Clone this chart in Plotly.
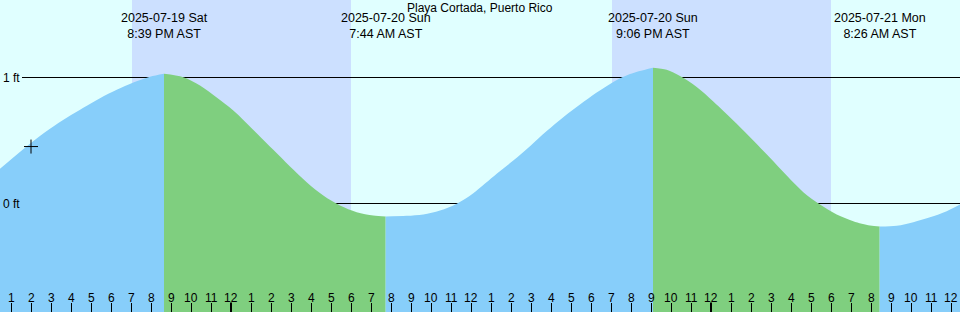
import pandas as pd
import plotly.graph_objects as go

# ---------------- data ----------------
BASE = pd.Timestamp("2025-07-19 00:00")
station = "Playa Cortada, Puerto Rico"

# hours since 2025-07-19 00:00 (AST) and tide height (ft)
tide_hours = [12.45, 13.95, 14.95, 15.785, 16.615, 17.45, 18.285, 19.115, 19.95, 20.65,
              21.615, 22.45, 23.285, 24.115, 25.285, 26.115, 26.95, 27.785, 28.615,
              29.45, 30.285, 31.115, 31.7333, 32.785, 33.615, 34.45, 35.285, 36.115,
              37.285, 38.115, 38.95, 39.785, 40.615, 41.45, 42.285, 43.115, 43.95, 44.785,
              45.10, 45.785, 46.45, 47.285, 48.115, 49.285, 50.115, 50.95, 51.785,
              52.615, 53.45, 54.285, 55.115, 55.95, 56.4333, 57.285, 58.115, 58.95, 59.785,
              60.45]
tide_ft = [0.275, 0.474, 0.593, 0.680, 0.760, 0.836, 0.902, 0.960, 1.006, 1.030,
           1.002, 0.937, 0.841, 0.738, 0.558, 0.426, 0.294, 0.169, 0.063,
           -0.016, -0.069, -0.095, -0.103, -0.098, -0.087, -0.056, -0.002, 0.082,
           0.236, 0.341, 0.455, 0.575, 0.685, 0.785, 0.880, 0.965, 1.027, 1.066,
           1.077, 1.061, 1.012, 0.925, 0.810, 0.633, 0.500, 0.363, 0.222,
           0.090, -0.008, -0.087, -0.140, -0.175, -0.183, -0.177, -0.148, -0.109, -0.061,
           -0.008]

# high/low events (hours since base) with their labels
event_hours = [20.65, 31.7333, 45.10, 56.4333]
event_dates = ["2025-07-19 Sat", "2025-07-20 Sun", "2025-07-20 Sun", "2025-07-21 Mon"]
event_times = ["8:39 PM AST", "7:44 AM AST", "9:06 PM AST", "8:26 AM AST"]

# night intervals (sunset, sunrise), hours since base
sunsets = [19.05, 43.05]
sunrises = [30.0, 54.0]

# hour ticks
tick_hours = list(range(13, 61))
tick_labels = [str(h % 12 if h % 12 else 12) for h in tick_hours]
midnight_hours = [24, 48]

# current-time marker
now_hour = 14.0
now_ft = 0.452

view_start, view_end = 12.45, 60.45
y_min, y_max = -0.861, 1.615
level_lines = [1, 0]

# ---------------- styling ----------------
DAY = "#E0FFFF"
NIGHT = "#CCE0FF"
FLOOD = "#87CEFA"
EBB = "#7FCF7F"
FONT = "Liberation Sans"


def T(h):
    return BASE + pd.Timedelta(hours=h)


fig = go.Figure()

# split the curve into rising (flood) and falling (ebb) parts at the extremes
bounds = [view_start] + event_hours + [view_end]
for i in range(len(bounds) - 1):
    a, b = bounds[i], bounds[i + 1]
    xs, ys = [], []
    for h, v in zip(tide_hours, tide_ft):
        if a - 1e-3 <= h <= b + 1e-3:
            xs.append(T(h))
            ys.append(v)
    rising = ys[-1] > ys[0]
    fig.add_trace(go.Scatter(x=[T(a), T(b)], y=[y_min, y_min], mode="lines",
                             line=dict(width=0), hoverinfo="skip", showlegend=False))
    fig.add_trace(go.Scatter(x=xs, y=ys, mode="lines",
                             line=dict(width=0, shape="spline", smoothing=0.9),
                             fill="tonexty", fillcolor=FLOOD if rising else EBB,
                             hoverinfo="skip", showlegend=False))

# current time marker
fig.add_trace(go.Scatter(x=[T(now_hour)], y=[now_ft], mode="markers",
                         marker=dict(symbol="cross-thin", size=10, line=dict(color="black", width=1)),
                         hoverinfo="skip", showlegend=False))

shapes = []
shapes.append(dict(type="rect", xref="paper", yref="paper", x0=0, x1=1, y0=0, y1=1,
                   fillcolor=DAY, line=dict(width=0), layer="below"))
for s, r in zip(sunsets, sunrises):
    shapes.append(dict(type="rect", xref="x", yref="paper", x0=T(s), x1=T(r), y0=0, y1=1,
                       fillcolor=NIGHT, line=dict(width=0), layer="below"))
for lv in level_lines:
    shapes.append(dict(type="line", xref="paper", yref="y", x0=22 / 960, x1=1, y0=lv, y1=lv,
                       line=dict(color="black", width=1), layer="below"))
for m in midnight_hours:
    shapes.append(dict(type="line", xref="x", yref="paper", x0=T(m), x1=T(m), y0=0, y1=9.5 / 312,
                       line=dict(color="black", width=2), layer="above"))

ann = []
ann.append(dict(text=station, x=0.5, y=1 - 7.5 / 312, xref="paper", yref="paper",
                showarrow=False, xanchor="center", yanchor="middle",
                font=dict(family=FONT, size=12, color="black")))
for h, d, t in zip(event_hours, event_dates, event_times):
    ann.append(dict(text=d + "<br>" + t, x=T(h), y=1 - 26 / 312, xref="x", yref="paper",
                    showarrow=False, xanchor="center", yanchor="middle",
                    font=dict(family=FONT, size=12.5, color="black")))
for lv in level_lines:
    ann.append(dict(text=f"{lv} ft", x=0, y=lv, xref="paper", yref="y", showarrow=False,
                    xanchor="left", yanchor="middle", xshift=1,
                    font=dict(family=FONT, size=12, color="black")))
for h, lab in zip(tick_hours, tick_labels):
    ann.append(dict(text=lab, x=T(h), y=(312 - 297.5) / 312, xref="x", yref="paper", showarrow=False,
                    xanchor="center", yanchor="middle", font=dict(family=FONT, size=12, color="black")))

fig.update_layout(
    width=960, height=312,
    margin=dict(l=0, r=0, t=0, b=0, pad=0),
    paper_bgcolor=DAY, plot_bgcolor=DAY,
    showlegend=False,
    shapes=shapes, annotations=ann,
    xaxis=dict(type="date", range=[T(view_start), T(view_end)], showgrid=False, zeroline=False,
               showline=False, ticks="inside", ticklen=9, tickwidth=1, tickcolor="black",
               tickvals=[T(h) for h in tick_hours], showticklabels=False, fixedrange=True),
    yaxis=dict(range=[y_min, y_max], showgrid=False, zeroline=False, showline=False,
               showticklabels=False, ticks="", fixedrange=True),
)

fig.write_html("out.html")
